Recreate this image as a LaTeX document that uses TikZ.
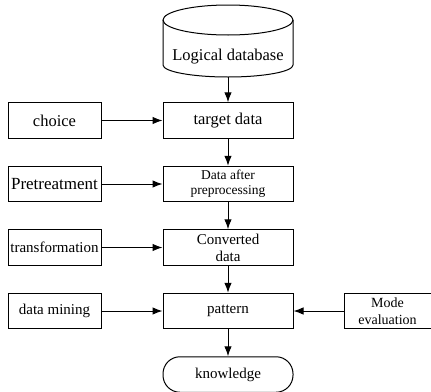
\documentclass[tikz,border=0pt]{standalone}
\usepackage{fontspec}
\setmainfont{Liberation Serif}
\usetikzlibrary{positioning, arrows.meta}

\begin{document}
\begin{tikzpicture}[
  x=1pt, y=1pt,
  node distance=27pt and 61pt,
  flow/.style={
    draw, line width=1pt, minimum width=130pt, minimum height=35.5pt,
    align=center, inner sep=1pt, font=\fontsize{15}{17}\selectfont
  },
  side/.style={
    draw, line width=1pt, minimum width=93pt, minimum height=35.5pt,
    align=center, inner sep=1pt, font=\fontsize{15}{17}\selectfont
  },
  big/.style={font=\fontsize{16.5}{18}\selectfont},
  arrow/.style={-{Latex[length=10pt,width=7.5pt]}, line width=1pt}
]
  \useasboundingbox (0,0) rectangle (431,-391);

  % logical database (cylinder)
  \draw[line width=1pt] (163,-20) -- (163,-65)
    arc[start angle=180, end angle=360, x radius=65, y radius=12] -- (293,-20);
  \draw[line width=1pt] (228,-20) ellipse [x radius=65, y radius=15];
  \node[big] (db) at (228,-57) {Logical database};
  \coordinate (dbbase) at (228,-77);

  % main chain
  \node[flow, big] (target) at (228,-120.5) {target data};
  \node[flow, below=of target, font=\fontsize{13.5}{15}\selectfont] (prep) {Data after\\preprocessing};
  \node[flow, below=of prep] (conv) {Converted\\data};
  \node[flow, below=of conv] (pattern) {pattern};
  \node[flow, below=of pattern, rounded corners=17pt] (know) {knowledge};

  % inputs on the sides
  \node[side, big, left=of target] (choice) {choice};
  \node[side, left=of prep, font=\fontsize{17}{19}\selectfont] (pretreat) {Pretreatment};
  \node[side, left=of conv] (transf) {transformation};
  \node[side, left=of pattern] (mining) {data mining};
  \node[side, right=50pt of pattern, minimum width=87pt,
        font=\fontsize{14}{16.5}\selectfont] (modeval) {Mode\\evaluation};

  \draw[arrow] (dbbase) -- (target);
  \draw[arrow] (target) -- (prep);
  \draw[arrow] (prep) -- (conv);
  \draw[arrow] (conv) -- (pattern);
  \draw[arrow] (pattern) -- (know);

  \draw[arrow] (choice) -- (target);
  \draw[arrow] (pretreat) -- (prep);
  \draw[arrow] (transf) -- (conv);
  \draw[arrow] (mining) -- (pattern);
  \draw[arrow] (modeval) -- (pattern);
\end{tikzpicture}
\end{document}
